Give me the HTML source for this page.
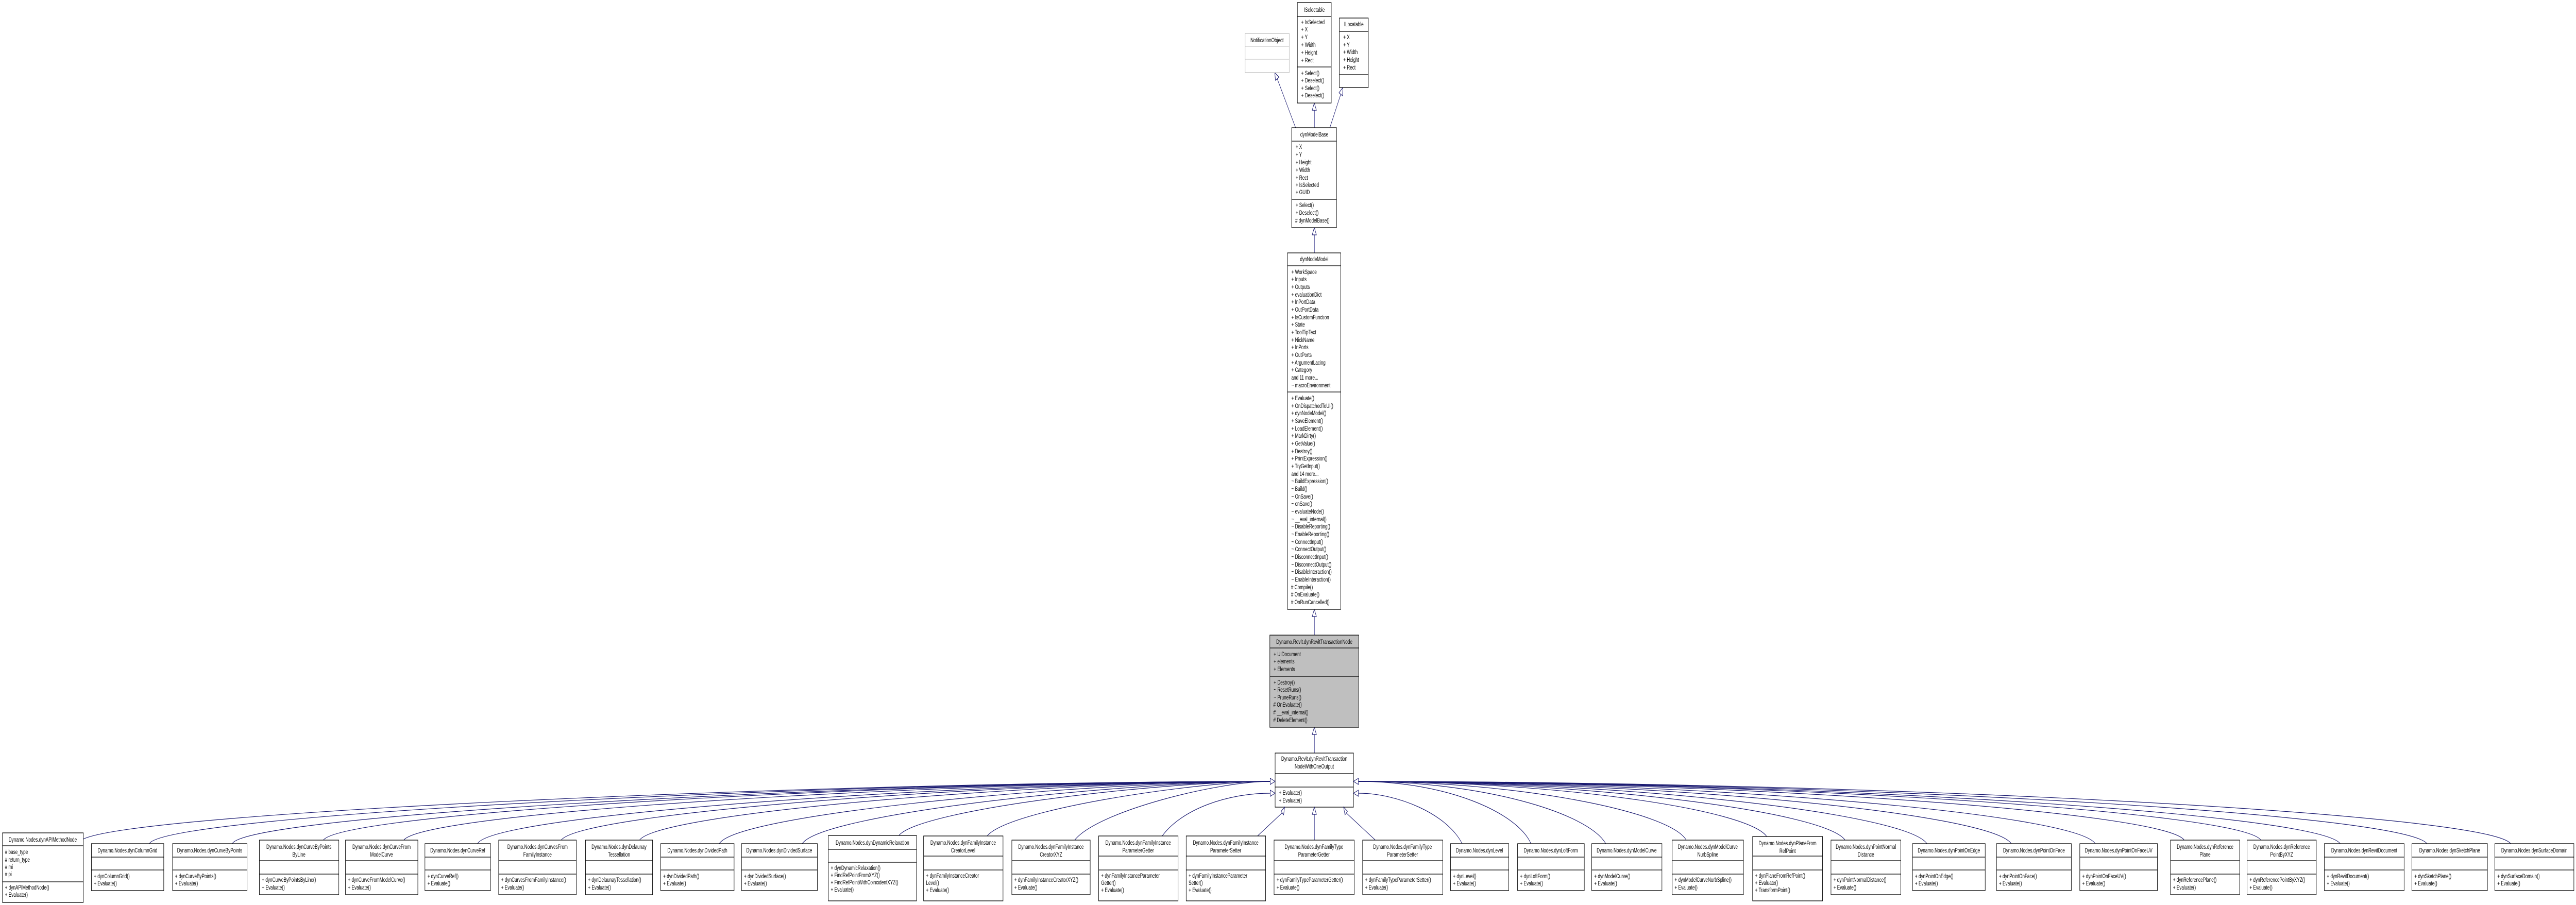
<!DOCTYPE html>
<html><head><meta charset="utf-8"><style>
html,body{margin:0;padding:0;background:#fff;width:100%;height:1757px;overflow:hidden}
svg{display:block;width:100vw;height:1757px}
text{font-family:"Liberation Sans",sans-serif;font-size:12px;fill:#000}
.t{text-anchor:middle}
.b{fill:#fff;stroke:#000;stroke-width:1.3}
.e{fill:none;stroke:#191970;stroke-width:1.2}
.v{fill:none;stroke:#4a4a98;stroke-width:2}
.h{fill:#fff;stroke:#191970;stroke-width:1.2}
.l{stroke:#000;stroke-width:1.3}
</style></head><body>
<svg viewBox="0 0 7299 1757" preserveAspectRatio="none" xmlns="http://www.w3.org/2000/svg">

<line class="e" x1="3671" y1="248" x2="3619" y2="153"/>
<polygon class="h" points="3612,141 3624,150 3614,156"/>
<line class="v" x1="3724" y1="214" x2="3724" y2="248"/>
<polygon class="h" points="3724,200 3718,214 3730,214"/>
<line class="e" x1="3799" y1="183" x2="3768" y2="248"/>
<polygon class="h" points="3805,170 3804,186 3794,180"/>
<line class="v" x1="3724" y1="456" x2="3724" y2="491"/>
<polygon class="h" points="3724,442 3718,456 3730,456"/>
<line class="v" x1="3724" y1="1197" x2="3724" y2="1233"/>
<polygon class="h" points="3724,1183 3718,1197 3730,1197"/>
<line class="v" x1="3724" y1="1426" x2="3724" y2="1462"/>
<polygon class="h" points="3724,1412 3718,1426 3730,1426"/>

<rect x="3528" y="65" width="125" height="76" fill="#fff" stroke="#bfbfbf" stroke-width="1.3"/>
<line x1="3528" y1="90" x2="3653" y2="90" stroke="#bfbfbf"/><line x1="3528" y1="115" x2="3653" y2="115" stroke="#bfbfbf"/>
<text class="t" x="3590" y="82">NotificationObject</text>

<rect class="b" x="3676" y="5" width="96" height="195"/>
<line class="l" x1="3676" y1="32" x2="3772" y2="32"/><line class="l" x1="3676" y1="130" x2="3772" y2="130"/>
<text class="t" x="3724" y="23">ISelectable</text>
<text x="3687" y="47">+ IsSelected</text><text x="3687" y="61">+ X</text><text x="3687" y="76">+ Y</text><text x="3687" y="91">+ Width</text><text x="3687" y="106">+ Height</text><text x="3687" y="121">+ Rect</text>
<text x="3687" y="146">+ Select()</text><text x="3687" y="160">+ Deselect()</text><text x="3687" y="175">+ Select()</text><text x="3687" y="189">+ Deselect()</text>

<rect class="b" x="3795" y="35" width="82" height="135"/>
<line class="l" x1="3795" y1="61" x2="3877" y2="61"/><line class="l" x1="3795" y1="145" x2="3877" y2="145"/>
<text class="t" x="3836" y="51">ILocatable</text>
<text x="3806" y="76">+ X</text><text x="3806" y="91">+ Y</text><text x="3806" y="105">+ Width</text><text x="3806" y="120">+ Height</text><text x="3806" y="135">+ Rect</text>

<rect class="b" x="3660" y="248" width="127" height="194"/>
<line class="l" x1="3660" y1="274" x2="3787" y2="274"/><line class="l" x1="3660" y1="387" x2="3787" y2="387"/>
<text class="t" x="3724" y="265">dynModelBase</text>
<text x="3671" y="289">+ X</text><text x="3671" y="304">+ Y</text><text x="3671" y="319">+ Height</text><text x="3671" y="334">+ Width</text><text x="3671" y="349">+ Rect</text><text x="3671" y="363">+ IsSelected</text><text x="3671" y="377">+ GUID</text>
<text x="3671" y="402">+ Select()</text><text x="3671" y="417">+ Deselect()</text><text x="3670" y="432"># dynModelBase()</text>

<rect class="b" x="3648" y="491" width="151" height="692"/>
<line class="l" x1="3648" y1="516" x2="3799" y2="516"/><line class="l" x1="3648" y1="761" x2="3799" y2="761"/>
<text class="t" x="3724" y="507">dynNodeModel</text>
<g>
<text x="3659" y="532">+ WorkSpace</text><text x="3659" y="546">+ Inputs</text><text x="3659" y="561">+ Outputs</text><text x="3659" y="576">+ evaluationDict</text><text x="3659" y="590">+ InPortData</text><text x="3659" y="605">+ OutPortData</text><text x="3659" y="620">+ IsCustomFunction</text><text x="3659" y="634">+ State</text><text x="3659" y="649">+ ToolTipText</text><text x="3659" y="664">+ NickName</text><text x="3659" y="678">+ InPorts</text><text x="3659" y="693">+ OutPorts</text><text x="3659" y="708">+ ArgumentLacing</text><text x="3659" y="722">+ Category</text><text x="3659" y="737">and 11 more...</text><text x="3659" y="752">~ macroEnvironment</text>
<text x="3659" y="777">+ Evaluate()</text><text x="3659" y="792">+ OnDispatchedToUI()</text><text x="3659" y="806">+ dynNodeModel()</text><text x="3659" y="821">+ SaveElement()</text><text x="3659" y="836">+ LoadElement()</text><text x="3659" y="850">+ MarkDirty()</text><text x="3659" y="865">+ GetValue()</text><text x="3659" y="880">+ Destroy()</text><text x="3659" y="894">+ PrintExpression()</text><text x="3659" y="909">+ TryGetInput()</text><text x="3659" y="924">and 14 more...</text><text x="3659" y="938">~ BuildExpression()</text><text x="3659" y="953">~ Build()</text><text x="3659" y="968">~ OnSave()</text><text x="3659" y="982">~ onSave()</text><text x="3659" y="997">~ evaluateNode()</text><text x="3659" y="1012">~ __eval_internal()</text><text x="3659" y="1026">~ DisableReporting()</text><text x="3659" y="1041">~ EnableReporting()</text><text x="3659" y="1056">~ ConnectInput()</text><text x="3659" y="1070">~ ConnectOutput()</text><text x="3659" y="1085">~ DisconnectInput()</text><text x="3659" y="1100">~ DisconnectOutput()</text><text x="3659" y="1114">~ DisableInteraction()</text><text x="3659" y="1129">~ EnableInteraction()</text><text x="3658" y="1144"># Compile()</text><text x="3658" y="1158"># OnEvaluate()</text><text x="3658" y="1173"># OnRunCancelled()</text>
</g>

<rect x="3598" y="1233" width="252" height="179" fill="#bfbfbf" stroke="#000" stroke-width="1.3"/>
<line class="l" x1="3598" y1="1258" x2="3850" y2="1258"/><line class="l" x1="3598" y1="1313" x2="3850" y2="1313"/>
<text class="t" x="3724" y="1250">Dynamo.Revit.dynRevitTransactionNode</text>
<text x="3609" y="1274">+ UIDocument</text><text x="3609" y="1288">+ elements</text><text x="3609" y="1303">+ Elements</text>
<text x="3609" y="1329">+ Destroy()</text><text x="3609" y="1343">~ ResetRuns()</text><text x="3609" y="1358">~ PruneRuns()</text><text x="3608" y="1372"># OnEvaluate()</text><text x="3608" y="1387"># __eval_internal()</text><text x="3608" y="1402"># DeleteElement()</text>

<rect class="b" x="3613" y="1462" width="222" height="105"/>
<line class="l" x1="3613" y1="1502" x2="3835" y2="1502"/><line class="l" x1="3613" y1="1528" x2="3835" y2="1528"/>
<text class="t" x="3724" y="1477">Dynamo.Revit.dynRevitTransaction</text><text class="t" x="3724" y="1492">NodeWithOneOutput</text>
<text x="3624" y="1543">+ Evaluate()</text><text x="3624" y="1558">+ Evaluate()</text>

<g class="e">
<path d="M236,1629 C400,1575 2400,1517 3599,1517"/>
<path d="M423,1638 C470,1580 2400,1517 3599,1517"/>
<path d="M658,1638 C700,1580 2500,1517 3599,1517"/>
<path d="M915,1632 C960,1575 2600,1517 3599,1517"/>
<path d="M1143,1632 C1190,1575 2700,1517 3599,1517"/>
<path d="M1353,1638 C1400,1578 2800,1517 3599,1517"/>
<path d="M1589,1632 C1640,1575 2900,1517 3599,1517"/>
<path d="M1811,1632 C1860,1575 3000,1517 3599,1517"/>
<path d="M2038,1638 C2090,1578 3100,1517 3599,1517"/>
<path d="M2273,1638 C2330,1578 3200,1517 3599,1517"/>
<path d="M2547,1622 C2610,1570 3300,1517 3599,1517"/>
<path d="M2797,1623 C2860,1570 3400,1517 3599,1517"/>
<path d="M3045,1631 C3110,1575 3450,1517 3599,1517"/>
<path d="M3293,1623 C3350,1570 3480,1540 3599,1540"/>
<path d="M3563,1623 L3633,1578"/>
<path d="M3897,1631 L3814,1578"/>
<path d="M4143,1638 C4100,1580 3960,1540 3849,1540"/>
<path d="M4338,1638 C4300,1578 4100,1517 3849,1517"/>
<path d="M4550,1638 C4500,1578 4200,1517 3849,1517"/>
<path d="M4778,1631 C4730,1575 4300,1517 3849,1517"/>
<path d="M5006,1624 C4950,1570 4400,1517 3849,1517"/>
<path d="M5228,1631 C5170,1575 4500,1517 3849,1517"/>
<path d="M5460,1638 C5400,1578 4600,1517 3849,1517"/>
<path d="M5699,1638 C5640,1578 4700,1517 3849,1517"/>
<path d="M5937,1638 C5880,1578 4800,1517 3849,1517"/>
<path d="M6189,1631 C6130,1575 4900,1517 3849,1517"/>
<path d="M6406,1631 C6350,1575 5000,1517 3849,1517"/>
<path d="M6631,1638 C6570,1578 5100,1517 3849,1517"/>
<path d="M6877,1638 C6810,1578 5200,1517 3849,1517"/>
<path d="M7114,1638 C7050,1578 5300,1517 3849,1517"/>
</g>
<line class="v" x1="3724" y1="1581" x2="3724" y2="1631"/>
<polygon class="h" points="3613,1517 3599,1511 3599,1523"/>
<polygon class="h" points="3613,1540 3599,1534 3599,1546"/>
<polygon class="h" points="3835,1517 3849,1511 3849,1523"/>
<polygon class="h" points="3835,1540 3849,1534 3849,1546"/>
<polygon class="h" points="3640,1567 3630,1575 3637,1582"/>
<polygon class="h" points="3724,1567 3718,1581 3730,1581"/>
<polygon class="h" points="3807,1567 3811,1582 3818,1575"/>

<g>
<rect class="b" x="7" y="1617" width="229" height="135"/><line class="l" x1="7" y1="1642" x2="236" y2="1642"/><line class="l" x1="7" y1="1712" x2="236" y2="1712"/>
<text class="t" x="121" y="1634">Dynamo.Nodes.dynAPIMethodNode</text>
<text x="14" y="1658"># base_type</text><text x="14" y="1673"># return_type</text><text x="14" y="1687"># mi</text><text x="14" y="1701"># pi</text>
<text x="14" y="1727">+ dynAPIMethodNode()</text><text x="14" y="1741">+ Evaluate()</text>
<rect class="b" x="259" y="1638" width="205" height="91"/><line class="l" x1="259" y1="1664" x2="464" y2="1664"/><line class="l" x1="259" y1="1689" x2="464" y2="1689"/>
<text class="t" x="361" y="1655">Dynamo.Nodes.dynColumnGrid</text><text x="266" y="1705">+ dynColumnGrid()</text><text x="266" y="1719">+ Evaluate()</text>
<rect class="b" x="489" y="1638" width="211" height="91"/><line class="l" x1="489" y1="1664" x2="700" y2="1664"/><line class="l" x1="489" y1="1689" x2="700" y2="1689"/>
<text class="t" x="594" y="1655">Dynamo.Nodes.dynCurveByPoints</text><text x="496" y="1705">+ dynCurveByPoints()</text><text x="496" y="1719">+ Evaluate()</text>
<rect class="b" x="735" y="1631" width="225" height="106"/><line class="l" x1="735" y1="1671" x2="960" y2="1671"/><line class="l" x1="735" y1="1697" x2="960" y2="1697"/>
<text class="t" x="847" y="1648">Dynamo.Nodes.dynCurveByPoints</text><text class="t" x="847" y="1663">ByLine</text><text x="742" y="1712">+ dynCurveByPointsByLine()</text><text x="742" y="1727">+ Evaluate()</text>
<rect class="b" x="979" y="1631" width="205" height="106"/><line class="l" x1="979" y1="1671" x2="1184" y2="1671"/><line class="l" x1="979" y1="1697" x2="1184" y2="1697"/>
<text class="t" x="1081" y="1648">Dynamo.Nodes.dynCurveFrom</text><text class="t" x="1081" y="1663">ModelCurve</text><text x="986" y="1712">+ dynCurveFromModelCurve()</text><text x="986" y="1727">+ Evaluate()</text>
<rect class="b" x="1204" y="1638" width="186" height="91"/><line class="l" x1="1204" y1="1664" x2="1390" y2="1664"/><line class="l" x1="1204" y1="1689" x2="1390" y2="1689"/>
<text class="t" x="1297" y="1655">Dynamo.Nodes.dynCurveRef</text><text x="1211" y="1705">+ dynCurveRef()</text><text x="1211" y="1719">+ Evaluate()</text>
<rect class="b" x="1413" y="1631" width="220" height="106"/><line class="l" x1="1413" y1="1671" x2="1633" y2="1671"/><line class="l" x1="1413" y1="1697" x2="1633" y2="1697"/>
<text class="t" x="1523" y="1648">Dynamo.Nodes.dynCurvesFrom</text><text class="t" x="1523" y="1663">FamilyInstance</text><text x="1420" y="1712">+ dynCurvesFromFamilyInstance()</text><text x="1420" y="1727">+ Evaluate()</text>
<rect class="b" x="1659" y="1631" width="190" height="106"/><line class="l" x1="1659" y1="1671" x2="1849" y2="1671"/><line class="l" x1="1659" y1="1697" x2="1849" y2="1697"/>
<text class="t" x="1754" y="1648">Dynamo.Nodes.dynDelaunay</text><text class="t" x="1754" y="1663">Tessellation</text><text x="1666" y="1712">+ dynDelaunayTessellation()</text><text x="1666" y="1727">+ Evaluate()</text>
<rect class="b" x="1872" y="1638" width="208" height="91"/><line class="l" x1="1872" y1="1664" x2="2080" y2="1664"/><line class="l" x1="1872" y1="1689" x2="2080" y2="1689"/>
<text class="t" x="1976" y="1655">Dynamo.Nodes.dynDividedPath</text><text x="1879" y="1705">+ dynDividedPath()</text><text x="1879" y="1719">+ Evaluate()</text>
<rect class="b" x="2101" y="1638" width="215" height="91"/><line class="l" x1="2101" y1="1664" x2="2316" y2="1664"/><line class="l" x1="2101" y1="1689" x2="2316" y2="1689"/>
<text class="t" x="2208" y="1655">Dynamo.Nodes.dynDividedSurface</text><text x="2108" y="1705">+ dynDividedSurface()</text><text x="2108" y="1719">+ Evaluate()</text>
<rect class="b" x="2347" y="1622" width="250" height="127"/><line class="l" x1="2347" y1="1649" x2="2597" y2="1649"/><line class="l" x1="2347" y1="1674" x2="2597" y2="1674"/>
<text class="t" x="2472" y="1640">Dynamo.Nodes.dynDynamicRelaxation</text><text x="2354" y="1689">+ dynDynamicRelaxation()</text><text x="2354" y="1703">+ FindRefPointFromXYZ()</text><text x="2354" y="1717">+ FindRefPointWithCoincidentXYZ()</text><text x="2354" y="1731">+ Evaluate()</text>
<rect class="b" x="2617" y="1623" width="225" height="126"/><line class="l" x1="2617" y1="1662" x2="2842" y2="1662"/><line class="l" x1="2617" y1="1689" x2="2842" y2="1689"/>
<text class="t" x="2729" y="1640">Dynamo.Nodes.dynFamilyInstance</text><text class="t" x="2729" y="1655">CreatorLevel</text><text x="2624" y="1704">+ dynFamilyInstanceCreator</text><text x="2624" y="1718">Level()</text><text x="2624" y="1732">+ Evaluate()</text>
<rect class="b" x="2867" y="1631" width="222" height="106"/><line class="l" x1="2867" y1="1671" x2="3089" y2="1671"/><line class="l" x1="2867" y1="1697" x2="3089" y2="1697"/>
<text class="t" x="2978" y="1648">Dynamo.Nodes.dynFamilyInstance</text><text class="t" x="2978" y="1663">CreatorXYZ</text><text x="2874" y="1712">+ dynFamilyInstanceCreatorXYZ()</text><text x="2874" y="1727">+ Evaluate()</text>
<rect class="b" x="3113" y="1623" width="225" height="126"/><line class="l" x1="3113" y1="1662" x2="3338" y2="1662"/><line class="l" x1="3113" y1="1689" x2="3338" y2="1689"/>
<text class="t" x="3225" y="1640">Dynamo.Nodes.dynFamilyInstance</text><text class="t" x="3225" y="1655">ParameterGetter</text><text x="3120" y="1704">+ dynFamilyInstanceParameter</text><text x="3120" y="1718">Getter()</text><text x="3120" y="1732">+ Evaluate()</text>
<rect class="b" x="3361" y="1623" width="225" height="126"/><line class="l" x1="3361" y1="1662" x2="3586" y2="1662"/><line class="l" x1="3361" y1="1689" x2="3586" y2="1689"/>
<text class="t" x="3473" y="1640">Dynamo.Nodes.dynFamilyInstance</text><text class="t" x="3473" y="1655">ParameterSetter</text><text x="3368" y="1704">+ dynFamilyInstanceParameter</text><text x="3368" y="1718">Setter()</text><text x="3368" y="1732">+ Evaluate()</text>
<rect class="b" x="3610" y="1631" width="227" height="106"/><line class="l" x1="3610" y1="1671" x2="3837" y2="1671"/><line class="l" x1="3610" y1="1697" x2="3837" y2="1697"/>
<text class="t" x="3723" y="1648">Dynamo.Nodes.dynFamilyType</text><text class="t" x="3723" y="1663">ParameterGetter</text><text x="3617" y="1712">+ dynFamilyTypeParameterGetter()</text><text x="3617" y="1727">+ Evaluate()</text>
<rect class="b" x="3861" y="1631" width="227" height="106"/><line class="l" x1="3861" y1="1671" x2="4088" y2="1671"/><line class="l" x1="3861" y1="1697" x2="4088" y2="1697"/>
<text class="t" x="3974" y="1648">Dynamo.Nodes.dynFamilyType</text><text class="t" x="3974" y="1663">ParameterSetter</text><text x="3868" y="1712">+ dynFamilyTypeParameterSetter()</text><text x="3868" y="1727">+ Evaluate()</text>
<rect class="b" x="4110" y="1638" width="165" height="91"/><line class="l" x1="4110" y1="1664" x2="4275" y2="1664"/><line class="l" x1="4110" y1="1689" x2="4275" y2="1689"/>
<text class="t" x="4192" y="1655">Dynamo.Nodes.dynLevel</text><text x="4117" y="1705">+ dynLevel()</text><text x="4117" y="1719">+ Evaluate()</text>
<rect class="b" x="4300" y="1638" width="189" height="91"/><line class="l" x1="4300" y1="1664" x2="4489" y2="1664"/><line class="l" x1="4300" y1="1689" x2="4489" y2="1689"/>
<text class="t" x="4394" y="1655">Dynamo.Nodes.dynLoftForm</text><text x="4307" y="1705">+ dynLoftForm()</text><text x="4307" y="1719">+ Evaluate()</text>
<rect class="b" x="4510" y="1638" width="199" height="91"/><line class="l" x1="4510" y1="1664" x2="4709" y2="1664"/><line class="l" x1="4510" y1="1689" x2="4709" y2="1689"/>
<text class="t" x="4609" y="1655">Dynamo.Nodes.dynModelCurve</text><text x="4517" y="1705">+ dynModelCurve()</text><text x="4517" y="1719">+ Evaluate()</text>
<rect class="b" x="4738" y="1631" width="202" height="106"/><line class="l" x1="4738" y1="1671" x2="4940" y2="1671"/><line class="l" x1="4738" y1="1697" x2="4940" y2="1697"/>
<text class="t" x="4839" y="1648">Dynamo.Nodes.dynModelCurve</text><text class="t" x="4839" y="1663">NurbSpline</text><text x="4745" y="1712">+ dynModelCurveNurbSpline()</text><text x="4745" y="1727">+ Evaluate()</text>
<rect class="b" x="4966" y="1624" width="198" height="125"/><line class="l" x1="4966" y1="1662" x2="5164" y2="1662"/><line class="l" x1="4966" y1="1689" x2="5164" y2="1689"/>
<text class="t" x="5065" y="1641">Dynamo.Nodes.dynPlaneFrom</text><text class="t" x="5065" y="1656">RefPoint</text><text x="4973" y="1704">+ dynPlaneFromRefPoint()</text><text x="4973" y="1718">+ Evaluate()</text><text x="4973" y="1732">+ TransformPoint()</text>
<rect class="b" x="5188" y="1631" width="198" height="106"/><line class="l" x1="5188" y1="1671" x2="5386" y2="1671"/><line class="l" x1="5188" y1="1697" x2="5386" y2="1697"/>
<text class="t" x="5287" y="1648">Dynamo.Nodes.dynPointNormal</text><text class="t" x="5287" y="1663">Distance</text><text x="5195" y="1712">+ dynPointNormalDistance()</text><text x="5195" y="1727">+ Evaluate()</text>
<rect class="b" x="5419" y="1638" width="206" height="91"/><line class="l" x1="5419" y1="1664" x2="5625" y2="1664"/><line class="l" x1="5419" y1="1689" x2="5625" y2="1689"/>
<text class="t" x="5522" y="1655">Dynamo.Nodes.dynPointOnEdge</text><text x="5426" y="1705">+ dynPointOnEdge()</text><text x="5426" y="1719">+ Evaluate()</text>
<rect class="b" x="5657" y="1638" width="212" height="91"/><line class="l" x1="5657" y1="1664" x2="5869" y2="1664"/><line class="l" x1="5657" y1="1689" x2="5869" y2="1689"/>
<text class="t" x="5763" y="1655">Dynamo.Nodes.dynPointOnFace</text><text x="5664" y="1705">+ dynPointOnFace()</text><text x="5664" y="1719">+ Evaluate()</text>
<rect class="b" x="5893" y="1638" width="220" height="91"/><line class="l" x1="5893" y1="1664" x2="6113" y2="1664"/><line class="l" x1="5893" y1="1689" x2="6113" y2="1689"/>
<text class="t" x="6003" y="1655">Dynamo.Nodes.dynPointOnFaceUV</text><text x="5900" y="1705">+ dynPointOnFaceUV()</text><text x="5900" y="1719">+ Evaluate()</text>
<rect class="b" x="6150" y="1631" width="196" height="106"/><line class="l" x1="6150" y1="1671" x2="6346" y2="1671"/><line class="l" x1="6150" y1="1697" x2="6346" y2="1697"/>
<text class="t" x="6248" y="1648">Dynamo.Nodes.dynReference</text><text class="t" x="6248" y="1663">Plane</text><text x="6157" y="1712">+ dynReferencePlane()</text><text x="6157" y="1727">+ Evaluate()</text>
<rect class="b" x="6367" y="1631" width="196" height="106"/><line class="l" x1="6367" y1="1671" x2="6563" y2="1671"/><line class="l" x1="6367" y1="1697" x2="6563" y2="1697"/>
<text class="t" x="6465" y="1648">Dynamo.Nodes.dynReference</text><text class="t" x="6465" y="1663">PointByXYZ</text><text x="6374" y="1712">+ dynReferencePointByXYZ()</text><text x="6374" y="1727">+ Evaluate()</text>
<rect class="b" x="6586" y="1638" width="226" height="91"/><line class="l" x1="6586" y1="1664" x2="6812" y2="1664"/><line class="l" x1="6586" y1="1689" x2="6812" y2="1689"/>
<text class="t" x="6699" y="1655">Dynamo.Nodes.dynRevitDocument</text><text x="6593" y="1705">+ dynRevitDocument()</text><text x="6593" y="1719">+ Evaluate()</text>
<rect class="b" x="6834" y="1638" width="214" height="91"/><line class="l" x1="6834" y1="1664" x2="7048" y2="1664"/><line class="l" x1="6834" y1="1689" x2="7048" y2="1689"/>
<text class="t" x="6941" y="1655">Dynamo.Nodes.dynSketchPlane</text><text x="6841" y="1705">+ dynSketchPlane()</text><text x="6841" y="1719">+ Evaluate()</text>
<rect class="b" x="7069" y="1638" width="224" height="91"/><line class="l" x1="7069" y1="1664" x2="7293" y2="1664"/><line class="l" x1="7069" y1="1689" x2="7293" y2="1689"/>
<text class="t" x="7181" y="1655">Dynamo.Nodes.dynSurfaceDomain</text><text x="7076" y="1705">+ dynSurfaceDomain()</text><text x="7076" y="1719">+ Evaluate()</text>
</g>
</svg>
</body></html>
